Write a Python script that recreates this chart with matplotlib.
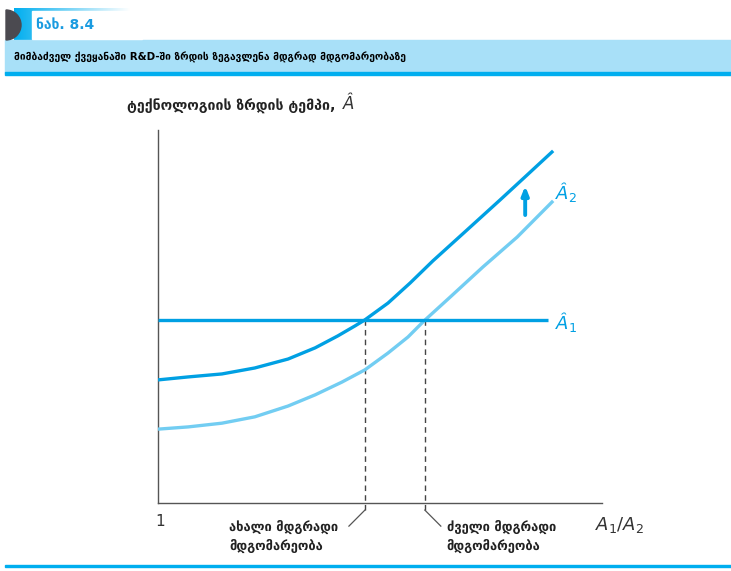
import numpy as np
import matplotlib
matplotlib.use("Agg")
import matplotlib.pyplot as plt
from matplotlib.patches import Rectangle, Wedge

plt.rcParams['font.family'] = ['DejaVu Sans']
plt.rcParams['mathtext.fontset'] = 'dejavusans'

# curve readings (x = A1/A2 scale, y = growth rate), arbitrary units
dark_x = [0.0, 0.68, 1.44, 2.18, 2.93, 3.54, 4.05, 4.44, 4.66, 5.18, 5.68,
          6.19, 6.96, 7.70, 8.31, 8.90]
dark_y = [3.30, 3.38, 3.46, 3.62, 3.86, 4.16, 4.48, 4.75, 4.91, 5.36, 5.90,
          6.49, 7.32, 8.12, 8.79, 9.44]
light_x = [0.0, 0.68, 1.44, 2.18, 2.93, 3.54, 4.14, 4.66, 5.18, 5.63, 5.99,
           6.58, 7.32, 8.09, 8.90]
light_y = [1.98, 2.04, 2.14, 2.31, 2.60, 2.90, 3.24, 3.57, 4.02, 4.45, 4.88,
           5.52, 6.33, 7.13, 8.10]
a1_level = 4.91
a1_end = 8.78
new_ss = 4.66
old_ss = 6.01

fig_title = "ნახ. 8.4"
title = "მიმბაძველ ქვეყანაში R&D-ში ზრდის ზეგავლენა მდგრად მდგომარეობაზე"
ylabel = "ტექნოლოგიის ზრდის ტემპი,"
new_label = "ახალი მდგრადი\nმდგომარეობა"
old_label = "ძველი მდგრადი\nმდგომარეობა"

DARK = '#00a0e3'
LIGHT = '#72cdf2'

W, H = 731, 571
fig = plt.figure(figsize=(W / 100, H / 100), dpi=100)

# background layer in pixel coordinates for the header
bg = fig.add_axes([0, 0, 1, 1])
bg.set_xlim(0, W)
bg.set_ylim(H, 0)
bg.axis('off')
grad = np.linspace(0, 1, 256).reshape(1, -1)
cmap = matplotlib.colors.LinearSegmentedColormap.from_list('g', ['#00aeef', '#ffffff'])
bg.imshow(grad, extent=(14, 130, 40, 8), cmap=cmap, aspect='auto', zorder=1)
bg.add_patch(Rectangle((32, 11), 110, 28, color='white', zorder=2))
bg.add_patch(Wedge((6, 25), 15, -90, 90, color='#4b4a50', zorder=3))
bg.add_patch(Rectangle((5, 40), W - 5, 33, color='#a8e0f8', zorder=1))
bg.add_patch(Rectangle((5, 72), W - 5, 2.5, color='#00aeef', zorder=2))
bg.add_patch(Rectangle((5, 565), W - 5, 2, color='#00aeef', zorder=2))
bg.text(36, 25, fig_title, color='#1a9be0', fontsize=10, fontweight='bold',
        va='center', ha='left', zorder=4)
bg.text(14, 57, title, color='black', fontsize=7.4, fontweight='bold',
        va='center', ha='left', zorder=4)

# chart
ax = fig.add_axes([158 / W, 68 / H, 444 / W, 373 / H])
ax.set_xlim(0, 10)
ax.set_ylim(0, 10)
ax.patch.set_alpha(0)
for s in ['top', 'right']:
    ax.spines[s].set_visible(False)
for s in ['left', 'bottom']:
    ax.spines[s].set_color('#555555')
    ax.spines[s].set_linewidth(1.0)
ax.set_xticks([])
ax.set_yticks([])

ax.plot(light_x, light_y, color=LIGHT, lw=2.4, solid_capstyle='butt',
        solid_joinstyle='round', zorder=3)
ax.plot(dark_x, dark_y, color=DARK, lw=2.4, solid_capstyle='butt',
        solid_joinstyle='round', zorder=4)
ax.plot([0, a1_end], [a1_level, a1_level], color=DARK, lw=2.4,
        solid_capstyle='butt', zorder=4)

for xv in [new_ss, old_ss]:
    ax.plot([xv, xv], [-0.19, a1_level], color='#444444', lw=1.0,
            ls=(0, (4, 3)), clip_on=False, zorder=2)
ax.plot([new_ss, new_ss - 0.36], [-0.19, -0.62], color='#555555', lw=0.9, clip_on=False)
ax.plot([old_ss, old_ss + 0.36], [-0.19, -0.62], color='#555555', lw=0.9, clip_on=False)

ax.annotate('', xy=(8.27, 8.5), xytext=(8.27, 7.72),
            arrowprops=dict(arrowstyle='-|>,head_width=0.2,head_length=0.5',
                            color=DARK, lw=2.8, shrinkA=0, shrinkB=0))

ax.text(8.95, 8.35, r'$\mathit{Â}_2$', color=DARK, fontsize=13, va='center', ha='left')
ax.text(8.95, 4.85, r'$\mathit{Â}_1$', color=DARK, fontsize=13, va='center', ha='left')

ax.text(-0.05, -0.5, '1', fontsize=11, color='#333333', ha='left', va='center', clip_on=False)
ax.text(1.6, -0.9, new_label, fontsize=9.3, fontweight='bold', color='#222222',
        ha='left', va='center', linespacing=1.5, clip_on=False)
ax.text(6.5, -0.9, old_label, fontsize=9.3, fontweight='bold', color='#222222',
        ha='left', va='center', linespacing=1.5, clip_on=False)
ax.text(9.85, -0.6, r'$A_1/A_2$', fontsize=13, color='#333333', ha='left',
        va='center', clip_on=False)

fig.text(127 / W, 1 - 106 / H, ylabel + ' ', fontsize=10.2, fontweight='bold',
         color='#222222', ha='left', va='center')
fig.text(343 / W, 1 - 104 / H, 'Â', fontsize=12, style='italic', color='#333333',
         ha='left', va='center')

fig.savefig('out.png', dpi=100)
